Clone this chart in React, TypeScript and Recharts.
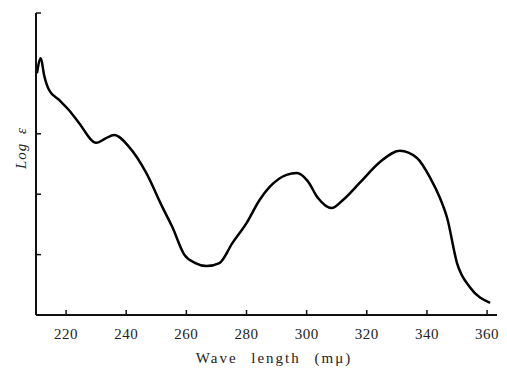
import { LineChart, Line, XAxis, YAxis, Label } from "recharts";

const wavelengths = [
  210.3, 211.6, 212.7, 214.3, 217.7, 221, 224.3, 230, 233, 236, 241, 246.7, 252, 255.3, 259.3,
  263, 266.7, 271, 275.3, 280, 284.3, 287.7, 293.3, 296.7, 300.3, 303.7, 308.3, 312, 317.7,
  324.3, 331, 336.7, 341, 344.3, 346.7, 350, 354.3, 361,
];
const logEps = [
  4.0, 4.25, 3.97, 3.73, 3.56, 3.39, 3.18, 2.85, 2.92, 2.98, 2.78, 2.35, 1.79, 1.46, 1.0,
  0.86, 0.81, 0.86, 1.19, 1.52, 1.9, 2.12, 2.32, 2.35, 2.22, 1.94, 1.77, 1.9, 2.19, 2.53,
  2.72, 2.6, 2.28, 1.94, 1.61, 0.86, 0.46, 0.2,
];
const xTicks = [220, 240, 260, 280, 300, 320, 340, 360];
const yTicks = [1, 2, 3, 5];

const data = wavelengths.map((w, i) => ({ w, v: logEps[i] }));
const serif = "Liberation Serif";

function XTick({ x, y, payload }: any) {
  return (
    <g>
      <line x1={x} y1={y} x2={x} y2={y - 5} stroke="#111" strokeWidth={1.5} />
      <text
        x={x}
        y={y + 24}
        textAnchor="middle"
        style={{ fontFamily: serif, fontSize: 15, letterSpacing: 0.5 }}
        fill="#222"
      >
        {payload.value}
      </text>
    </g>
  );
}

export default function App() {
  return (
    <div style={{ position: "absolute", left: 0, top: 0, background: "#fff" }}>
      <LineChart width={507} height={372} data={data} margin={{ top: 13, right: 10, left: 36, bottom: 0 }}>
        <XAxis
          dataKey="w"
          type="number"
          domain={[210, 363.3]}
          ticks={xTicks}
          tick={<XTick />}
          tickLine={false}
          tickSize={0}
          tickMargin={0}
          height={57}
          axisLine={{ stroke: "#111", strokeWidth: 2 }}
        >
          <Label
            content={() => (
              <text
                x={274}
                y={363}
                textAnchor="middle"
                style={{ fontFamily: serif, fontSize: 15, letterSpacing: 2, wordSpacing: 8 }}
                fill="#222"
              >
                Wave length (mμ)
              </text>
            )}
          />
        </XAxis>
        <YAxis
          type="number"
          domain={[0, 5]}
          ticks={yTicks}
          width={1}
          orientation="left"
          mirror
          tickSize={5}
          tickFormatter={() => ""}
          tickLine={{ stroke: "#111", strokeWidth: 1.5 }}
          axisLine={{ stroke: "#111", strokeWidth: 2 }}
        >
          <Label
            content={() => (
              <text
                x={26}
                y={148}
                transform="rotate(-90, 26, 148)"
                textAnchor="middle"
                style={{ fontFamily: serif, fontStyle: "italic", fontSize: 15, letterSpacing: 1, wordSpacing: 4 }}
                fill="#222"
              >
                Log ε
              </text>
            )}
          />
        </YAxis>
        <Line
          type="monotone"
          dataKey="v"
          stroke="#000"
          strokeWidth={2.5}
          dot={false}
          isAnimationActive={false}
        />
      </LineChart>
    </div>
  );
}
